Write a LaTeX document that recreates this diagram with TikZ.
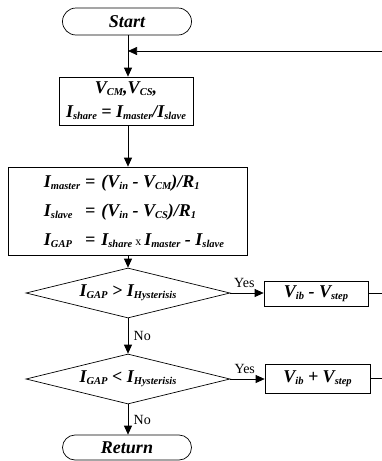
\documentclass[tikz,border=0pt]{standalone}
\usepackage{fontspec}
\setmainfont{Liberation Serif}
\usetikzlibrary{shapes.misc,shapes.geometric,arrows.meta}
\newcommand\sbs[1]{\raisebox{-0.22ex}{\fontsize{10.5}{11}\selectfont #1}}
\tikzset{
  lbl/.style={font=\fontsize{18}{20}\selectfont\bfseries\itshape},
  term/.style={draw, rounded rectangle, minimum width=129pt, lbl, inner sep=0pt},
  procbox/.style={draw, rectangle, lbl, inner sep=0pt},
  decide/.style={draw, diamond, aspect=4.08, minimum width=204pt, minimum height=50pt, inner sep=0pt, lbl},
  flow/.style={-{Triangle[length=9pt,width=8pt]}, line width=0.7pt},
  plain/.style={line width=0.7pt},
  yn/.style={font=\fontsize{14}{16}\selectfont}
}
\begin{document}
\begin{tikzpicture}[x=1pt,y=-1pt, line width=0.7pt]
\useasboundingbox (0,0) rectangle (382,461);
\node[term, minimum height=27pt] (start) at (127,21.5) {Start};
\node[procbox, minimum width=134pt, minimum height=48pt, align=center] (b1) at (126,101)
  {V\sbs{CM},V\sbs{CS},\\[4pt] I\sbs{share} = I\sbs{master}/I\sbs{slave}};
\node[procbox, minimum width=239pt, minimum height=88pt] (b2) at (127.5,211)
  {\hspace*{13pt}\renewcommand\arraystretch{1.45}\begin{tabular}{@{}l@{\hspace{5pt}}l@{\hspace{6pt}}l@{}}
   I\sbs{master} & = & (V\sbs{in} - V\sbs{CM})/R\sbs{1}\\
   I\sbs{slave}  & = & (V\sbs{in} - V\sbs{CS})/R\sbs{1}\\
   I\sbs{GAP}    & = & I\sbs{share}\,{\normalfont\mdseries\upshape\fontsize{12}{12}\selectfont x}\,I\sbs{master} - I\sbs{slave}
   \end{tabular}};
\node[decide] (d1) at (128,293) {I\sbs{GAP} > I\sbs{Hysterisis}};
\node[procbox, minimum width=104pt, minimum height=25pt] (b3) at (316,293.5) {V\sbs{ib} - V\sbs{step}};
\node[decide] (d2) at (128,379) {I\sbs{GAP} < I\sbs{Hysterisis}};
\node[procbox, minimum width=105pt, minimum height=29pt] (b4) at (317.5,378.5) {V\sbs{ib} + V\sbs{step}};
\node[term, minimum height=25pt] (ret) at (127,447.5) {Return};
\coordinate (fbR) at (382,51);
\coordinate (fbL) at (128,51);
\coordinate (r3) at (382,293.5);
\coordinate (r4) at (382,378.5);
\draw[flow] (start.south -| fbL) -- (b1.north -| fbL);
\draw[flow] (fbR) -- (fbL);
\draw[flow] (b1.south -| fbL) -- (b2.north -| fbL);
\draw[flow] (b2.south -| fbL) -- (d1.north);
\draw[flow] (d1.south) -- node[yn, right, xshift=2pt] {No} (d2.north);
\draw[flow] (d2.south) -- node[yn, right, xshift=2pt] {No} (ret.north -| d2.south);
\draw[flow] (d1.east) -- node[yn, above, pos=0.42, yshift=2pt] {Yes} (b3.west |- d1.east);
\draw[flow] (d2.east) -- node[yn, above, pos=0.42, yshift=2pt] {Yes} (b4.west |- d2.east);
\draw[plain] (b3.east) -- (r3);
\draw[plain] (b4.east) -- (r4);
\end{tikzpicture}
\end{document}
